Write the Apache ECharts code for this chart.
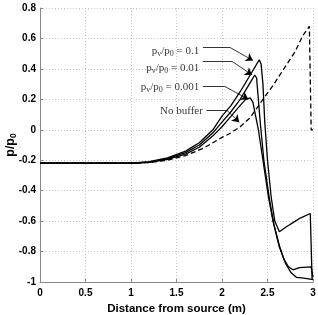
<!DOCTYPE html>
<html>
<head>
<meta charset="utf-8">
<script src="https://cdn.jsdelivr.net/npm/echarts@6/dist/echarts.min.js"></script>
<style>
  html, body { margin: 0; padding: 0; background: #fff; }
  #chart { width: 318px; height: 315px; }
</style>
</head>
<body>
<div id="chart"></div>
<script>
// curves as [distance, p/p0]
const buffer01 = [[0,-0.22],[1.0,-0.22],[1.2,-0.21],[1.4,-0.185],[1.6,-0.14],[1.75,-0.085],[1.9,0.0],[2.0,0.09],[2.1,0.16],[2.2,0.25],[2.3,0.35],[2.37,0.42],[2.41,0.46],[2.43,0.43],[2.45,0.3],[2.47,0.05],[2.5,-0.2],[2.54,-0.44],[2.58,-0.6],[2.63,-0.67],[2.7,-0.64],[2.78,-0.61],[2.86,-0.58],[2.97,-0.55],[2.99,-0.98]]
const buffer001 = [[0,-0.22],[1.0,-0.22],[1.2,-0.212],[1.4,-0.19],[1.6,-0.15],[1.75,-0.1],[1.9,-0.02],[2.0,0.05],[2.1,0.12],[2.2,0.2],[2.3,0.3],[2.36,0.36],[2.38,0.34],[2.42,0.05],[2.46,-0.2],[2.52,-0.45],[2.57,-0.62],[2.63,-0.76],[2.68,-0.85],[2.73,-0.9],[2.78,-0.92],[2.85,-0.905],[2.98,-0.9],[3.0,-0.97]]
const buffer0001 = [[0,-0.22],[1.0,-0.22],[1.2,-0.214],[1.4,-0.195],[1.6,-0.16],[1.75,-0.115],[1.9,-0.04],[2.0,0.02],[2.1,0.09],[2.2,0.16],[2.26,0.2],[2.31,0.21],[2.34,0.18],[2.4,0.0],[2.45,-0.2],[2.51,-0.44],[2.56,-0.6],[2.63,-0.77],[2.7,-0.88],[2.76,-0.94],[2.82,-0.97],[2.9,-0.975],[3.0,-0.985]]
const noBuffer = [[0,-0.22],[1.0,-0.22],[1.2,-0.215],[1.4,-0.2],[1.6,-0.17],[1.8,-0.12],[2.0,-0.05],[2.1,-0.02],[2.2,0.02],[2.31,0.08],[2.45,0.2],[2.56,0.29],[2.69,0.41],[2.8,0.51],[2.89,0.62],[2.96,0.68],[2.98,0.0],[3.0,0.0]]

// annotation texts and where they point
const labelTexts = ['p{s|v}/p{s|0} = 0.1', 'p{s|v}/p{s|0} = 0.01', 'p{s|v}/p{s|0} = 0.001', 'No buffer']
const labelAnchors = [[1.75,0.515],[1.75,0.405],[1.75,0.28],[1.79,0.12]]
const leaderFlat = [[[1.79,0.54],[2.09,0.54]], [[1.79,0.45],[2.11,0.45]], [[1.79,0.285],[2.03,0.285]], [[1.83,0.13],[2.05,0.13]]]
const leaderArrow = [[[2.09,0.54],[2.34,0.455]], [[2.11,0.45],[2.33,0.36]], [[2.03,0.285],[2.29,0.2]], [[2.05,0.13],[2.19,0.05]]]

const xTicks = { min: 0, max: 3, interval: 0.5 }
const yTicks = { min: -1, max: 0.8, interval: 0.2 }

const chart = echarts.init(document.getElementById('chart'))

function curve(data, dashed) {
  return {
    type: 'line',
    data: data,
    symbol: 'none',
    silent: true,
    animation: false,
    lineStyle: { color: '#000', width: 1.3, type: dashed ? [5, 3] : 'solid' }
  }
}

const fmt = v => String(+v.toFixed(1))

chart.setOption({
  animation: false,
  grid: { left: 40, right: 5, top: 8, bottom: 33, outerBoundsMode: 'none' },
  xAxis: {
    type: 'value',
    min: xTicks.min, max: xTicks.max, interval: xTicks.interval,
    name: 'Distance from source (m)',
    nameLocation: 'middle',
    nameGap: 21,
    nameMoveOverlap: false,
    nameTextStyle: { color: '#000', fontSize: 11.5, fontWeight: 'bold', fontFamily: 'Liberation Sans' },
    axisLine: { onZero: false, lineStyle: { color: '#888', width: 1 } },
    axisTick: { inside: true, length: 3, lineStyle: { color: '#888' } },
    axisLabel: { color: '#000', fontSize: 10, fontWeight: 'bold', fontFamily: 'Liberation Sans', margin: 6, formatter: fmt },
    splitLine: { show: true, lineStyle: { color: '#c8c8c8', type: [1, 2], width: 1 } }
  },
  yAxis: {
    type: 'value',
    min: yTicks.min, max: yTicks.max, interval: yTicks.interval,
    name: 'p/p{s|0}',
    nameLocation: 'middle',
    nameGap: 22,
    nameMoveOverlap: false,
    nameRotate: 90,
    nameTextStyle: {
      color: '#000', fontSize: 12.5, fontWeight: 'bold', fontFamily: 'Liberation Sans',
      rich: { s: { fontSize: 8.5, fontWeight: 'bold', fontFamily: 'Liberation Sans', color: '#000', padding: [5, 0, 0, 0] } }
    },
    axisLine: { show: true, onZero: false, lineStyle: { color: '#888', width: 1 } },
    axisTick: { show: true, inside: true, length: 3, lineStyle: { color: '#888' } },
    axisLabel: { color: '#000', fontSize: 10, fontWeight: 'bold', fontFamily: 'Liberation Sans', margin: 4, formatter: fmt },
    splitLine: { show: true, lineStyle: { color: '#c8c8c8', type: [1, 2], width: 1 } }
  },
  series: [
    curve(buffer01, false),
    curve(buffer001, false),
    curve(buffer0001, false),
    curve(noBuffer, true),
    {
      type: 'lines',
      coordinateSystem: 'cartesian2d',
      silent: true,
      symbol: 'none',
      lineStyle: { color: '#000', width: 0.8, opacity: 1 },
      data: leaderFlat.map(c => ({ coords: c }))
    },
    {
      type: 'lines',
      coordinateSystem: 'cartesian2d',
      silent: true,
      symbol: ['none', 'arrow'],
      symbolSize: [5, 7],
      lineStyle: { color: '#000', width: 0.8, opacity: 1 },
      data: leaderArrow.map(c => ({ coords: c }))
    },
    {
      type: 'scatter',
      silent: true,
      symbolSize: 0,
      data: labelAnchors.map((p, i) => ({ value: p, name: labelTexts[i] })),
      label: {
        show: true,
        position: 'left',
        distance: 0,
        formatter: '{b}',
        color: '#000',
        fontSize: 11,
        fontFamily: 'Liberation Serif',
        rich: { s: { fontSize: 8, fontFamily: 'Liberation Serif', color: '#000', padding: [5, 0, 0, 0] } }
      }
    }
  ]
})

window.addEventListener('resize', () => chart.resize())
</script>
</body>
</html>
